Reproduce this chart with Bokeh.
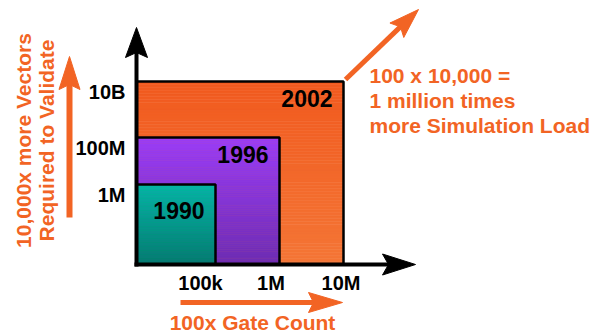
import numpy as np
from bokeh.plotting import figure
from bokeh.models import Range1d
from bokeh.embed import file_html
from bokeh.resources import INLINE
from bokeh.core.properties import value

# --- data -----------------------------------------------------------------
years = ["1990", "1996", "2002"]
gate_ticks = ["100k", "1M", "10M"]
vector_ticks = ["1M", "100M", "10B"]
# extent of each design generation along the gate-count (x) and vector (y) axes,
# in schematic chart units measured from the axis origin
box_right = [79, 143, 207]
box_top = [80, 127, 183]

# --- style ------------------------------------------------------------------
top_colors = ["#00B9A3", "#9B3DF6", "#F15A1F"]
bottom_colors = ["#007F6E", "#6E2DB2", "#F47636"]
ORANGE = "#F26424"
FONT = "Liberation Sans"

W, H = 595, 333
OX, OY = 136, 264  # canvas position of the axis origin

p = figure(width=W, height=H,
           x_range=Range1d(-OX, W - OX), y_range=Range1d(OY - H, OY),
           output_backend="svg", toolbar_location=None, min_border=0,
           x_axis_type=None, y_axis_type=None, outline_line_color=None,
           background_fill_color="white", border_fill_color="white")
p.grid.visible = False


def mix(c0, c1, t):
    a = np.array([int(c0[i:i + 2], 16) for i in (1, 3, 5)], float)
    b = np.array([int(c1[i:i + 2], 16) for i in (1, 3, 5)], float)
    r = (a + (b - a) * t).round().astype(int)
    return "#%02x%02x%02x" % tuple(r)


# nested generation boxes, largest first, each with a vertical gradient
for i in reversed(range(len(years))):
    n = 60
    edges = np.linspace(0, box_top[i], n + 1)
    fr = (np.arange(n) + 0.5) / n
    cols = [mix(bottom_colors[i], top_colors[i], f) for f in fr]
    p.quad(left=0, right=box_right[i], bottom=edges[:-1], top=edges[1:],
           fill_color=cols, line_color=cols, line_width=0.6)
    p.quad(left=0, right=box_right[i], bottom=0, top=box_top[i],
           fill_color=None, line_color="black", line_width=2.5)

# year labels inside the upper-right corner of each box
year_drop = [25.5, 17, 17]
p.text(x=[r - 11 for r in box_right], y=[t - d for t, d in zip(box_top, year_drop)],
       text=years, text_align="right", text_baseline="middle",
       text_font=value(FONT), text_font_style="bold", text_font_size="23px",
       text_color="black")

# axis tick labels
p.text(x=[-11] * 3, y=[t - 10.5 for t in box_top], text=vector_ticks,
       text_align="right", text_baseline="middle",
       text_font=value(FONT), text_font_style="bold", text_font_size="20px",
       text_color="black")
gate_shift = [15, 8.5, 2.5]
p.text(x=[r - s for r, s in zip(box_right, gate_shift)], y=[-18] * 3, text=gate_ticks,
       text_align="center", text_baseline="middle",
       text_font=value(FONT), text_font_style="bold", text_font_size="20px",
       text_color="black")


def arrow(x0, y0, x1, y1, color, shaft_w, head_len, head_half, notch):
    d = np.array([x1 - x0, y1 - y0], float)
    u = d / np.hypot(*d)
    nrm = np.array([-u[1], u[0]])
    tip = np.array([x1, y1], float)
    base = tip - u * head_len
    left = base + nrm * head_half
    right = base - nrm * head_half
    back = tip - u * (head_len - notch)
    end = back + u * 2
    p.line([x0, end[0]], [y0, end[1]], line_width=shaft_w, line_color=color)
    p.patch([tip[0], left[0], back[0], right[0]], [tip[1], left[1], back[1], right[1]],
            fill_color=color, line_color=color, line_width=1)


# black axes
arrow(0, -2, 0, 237, "black", 4, 30, 11, 5)
arrow(-2, 0, 279, 0, "black", 4, 33, 10.5, 6)

# orange growth arrows
arrow(-67, 47, -67, 208, ORANGE, 6, 33, 10.5, 5)
arrow(44, -38, 206, -38, ORANGE, 5, 34, 10, 5)
arrow(209, 185, 282, 255, ORANGE, 5, 30, 10, 5)

# annotations
p.text(x=[-113, -90], y=[124, 124],
       text=["10,000x more Vectors", "Required to Validate"],
       angle=np.pi / 2, text_align="center", text_baseline="middle",
       text_font=value(FONT), text_font_style="bold", text_font_size="21px",
       text_color=ORANGE)
p.text(x=[116], y=[-58], text=["100x Gate Count"],
       text_align="center", text_baseline="middle",
       text_font=value(FONT), text_font_style="bold", text_font_size="21px",
       text_color=ORANGE)
p.text(x=[233] * 3, y=[189, 164, 139],
       text=["100 x 10,000 =", "1 million times", "more Simulation Load"],
       text_align="left", text_baseline="middle",
       text_font=value(FONT), text_font_style="bold", text_font_size="21px",
       text_color=ORANGE)

open("out.html", "w").write(file_html(p, INLINE))
